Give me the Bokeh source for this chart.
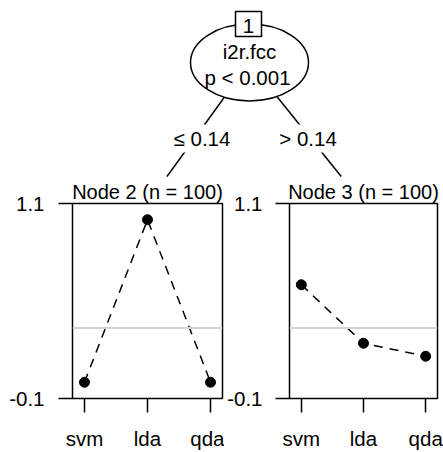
from bokeh.plotting import figure
from bokeh.layouts import column, row
from bokeh.models import Range1d, FixedTicker, Span, PrintfTickFormatter
from bokeh.core.properties import value
from bokeh.embed import file_html
from bokeh.resources import INLINE

# ---- data ----
categories = ["svm", "lda", "qda"]
node2_values = [0.0, 1.0, 0.0]
node3_values = [0.60, 0.24, 0.16]
reference_value = 1.0 / 3.0
y_ticks = [-0.1, 1.1]
split_variable = "i2r.fcc"
split_pvalue = "p < 0.001"
split_point = 0.14
node_ids = [1, 2, 3]
node_sizes = [100, 100]

FONT = "Liberation Sans"
FS = "20.5px"
TITLE_FS = "20px"

# ---- layout constants (pixels) ----
W = 443
TOP_H = 178
root_x, root_y = 249, 62
ell_w, ell_h = 118, 77
child_anchor_x = [160, 348]
child_anchor_y = 185
edge_end_y = 176
label_y = 138
label_x = [201.5, 307.5]

top = figure(width=W, height=TOP_H, x_range=Range1d(0, W), y_range=Range1d(TOP_H, 0),
             x_axis_location=None, y_axis_location=None, toolbar_location=None,
             output_backend="svg", min_border=0, outline_line_color=None)
top.grid.visible = False

# edges
x0s, y0s, x1s, y1s = [], [], [], []
for cx in child_anchor_x:
    t = (edge_end_y - root_y) / (child_anchor_y - root_y)
    x0s.append(root_x)
    y0s.append(root_y)
    x1s.append(root_x + (cx - root_x) * t)
    y1s.append(edge_end_y)
top.segment(x0=x0s, y0=y0s, x1=x1s, y1=y1s, line_color="black", line_width=1.5)

# root node
top.ellipse(x=[root_x], y=[root_y], width=[ell_w], height=[ell_h],
            width_units="screen", height_units="screen",
            fill_color="white", line_color="black", line_width=1.5)
top.rect(x=[root_x - 1], y=[23.5], width=[26], height=[25],
         width_units="screen", height_units="screen",
         fill_color="white", line_color="black", line_width=1.5)
top.text(x=[root_x - 1], y=[25], text=[str(node_ids[0])], text_font=value(FONT),
         text_font_size=FS, text_align="center", text_baseline="middle", text_color="black")
top.text(x=[root_x, root_x - 2], y=[51, 77], text=[split_variable, split_pvalue],
         text_font=value(FONT), text_font_size=FS, text_align="center",
         text_baseline="middle", text_color="black")

# edge labels
edge_labels = ["\u2264 %g" % split_point, "> %g" % split_point]
top.rect(x=label_x, y=[label_y, label_y], width=[62, 62], height=[28, 28],
         width_units="screen", height_units="screen",
         fill_color="white", line_color=None)
top.text(x=label_x, y=[label_y, label_y], text=edge_labels, text_font=value(FONT),
         text_font_size=FS, text_align="center", text_baseline="middle", text_color="black")


def make_panel(vals, node_id, n, width, left, right, ystandoff):
    xs = [i + 1 for i in range(len(categories))]
    p = figure(width=width, height=452 - TOP_H,
               x_range=Range1d(0.81, 3.19), y_range=Range1d(-0.1, 1.1),
               toolbar_location=None, output_backend="svg",
               min_border_left=left, min_border_right=right,
               min_border_top=24, min_border_bottom=50,
               title="Node %d (n = %d)" % (node_id, n))
    p.title.align = "center"
    p.title.text_font = FONT
    p.title.text_font_size = TITLE_FS
    p.title.text_font_style = "normal"
    p.title.text_color = "black"
    p.title.standoff = 1
    p.title.offset = 0
    p.grid.visible = False
    p.outline_line_color = "black"
    p.outline_line_width = 1.5
    p.background_fill_color = "white"
    p.border_fill_color = "white"

    p.xaxis.ticker = FixedTicker(ticks=xs)
    p.xaxis.major_label_overrides = {x: c for x, c in zip(xs, categories)}
    p.yaxis.ticker = FixedTicker(ticks=y_ticks)
    p.yaxis.formatter = PrintfTickFormatter(format="%.1f")
    for ax in (p.xaxis, p.yaxis):
        ax.axis_line_color = None
        ax.major_tick_in = 0
        ax.major_tick_out = 14
        ax.major_tick_line_width = 1.5
        ax.major_tick_line_color = "black"
        ax.minor_tick_line_color = None
        ax.major_label_text_font = FONT
        ax.major_label_text_font_size = FS
        ax.major_label_text_color = "black"
    p.yaxis.major_label_standoff = ystandoff
    p.xaxis.major_label_standoff = 14

    p.add_layout(Span(location=reference_value, dimension="width",
                      line_color="#d3d3d3", line_width=2))
    p.line(xs, vals, line_color="black", line_width=1.5, line_dash="9 7")
    p.scatter(xs, vals, size=10, fill_color="black", line_color="black")
    return p


p1 = make_panel(node2_values, node_ids[1], node_sizes[0], 224, 72, 2, 14)
p2 = make_panel(node3_values, node_ids[2], node_sizes[1], 219, 62, 6, 13)

layout = column(top, row(p1, p2, spacing=0), spacing=0)
open("out.html", "w").write(file_html(layout, INLINE))
